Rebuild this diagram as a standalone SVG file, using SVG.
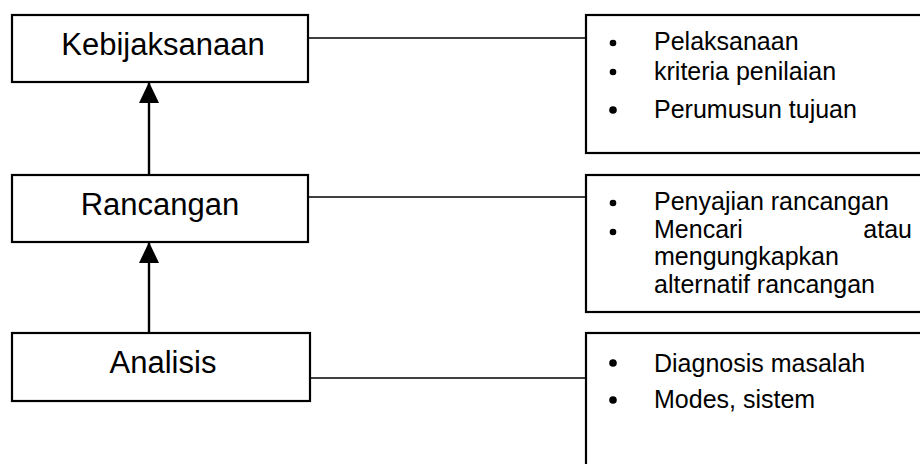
<svg xmlns="http://www.w3.org/2000/svg" width="920" height="464" viewBox="0 0 920 464">
<defs>
<marker id="ah" markerUnits="userSpaceOnUse" markerWidth="21" markerHeight="20" refX="20" refY="10" orient="auto" viewBox="0 0 21 20">
<polygon points="0,0 21,10 0,20" fill="#000"/>
</marker>
</defs>
<style>
.box{fill:#fff;stroke:#000;stroke-width:2.2}
.lbl{font-family:"Liberation Sans",Arial,sans-serif;font-size:31px;fill:#000;text-anchor:middle}
.item{font-family:"Liberation Sans",Arial,sans-serif;font-size:25px;fill:#000}
.dot{fill:#000}
.con{stroke:#000;stroke-width:1.6;fill:none}
.arr{stroke:#000;stroke-width:2.4;fill:none}
</style>
<rect width="920" height="464" fill="#fff"/>
<g id="kebijaksanaan">
<rect class="box" x="12" y="15" width="296" height="67"/>
<text class="lbl" x="163" y="55">Kebijaksanaan</text>
</g>
<g id="rancangan">
<rect class="box" x="12" y="175" width="296" height="67"/>
<text class="lbl" x="160" y="215">Rancangan</text>
</g>
<g id="analisis">
<rect class="box" x="12" y="333" width="298" height="68"/>
<text class="lbl" x="163" y="373">Analisis</text>
</g>
<g id="list-kebijaksanaan">
<rect class="box" x="586" y="15" width="340" height="138"/>
<circle class="dot" cx="613" cy="43" r="3.3"/>
<circle class="dot" cx="613" cy="72" r="3.3"/>
<circle class="dot" cx="613" cy="110" r="3.8"/>
<text class="item" x="654" y="50">Pelaksanaan</text>
<text class="item" x="654" y="80">kriteria penilaian</text>
<text class="item" x="654" y="118">Perumusun tujuan</text>
</g>
<g id="list-rancangan">
<rect class="box" x="586" y="175" width="340" height="137"/>
<circle class="dot" cx="613" cy="203" r="3.3"/>
<circle class="dot" cx="613" cy="232" r="3.3"/>
<text class="item" x="654" y="210">Penyajian rancangan</text>
<text class="item" x="654" y="238">Mencari</text>
<text class="item" x="912" y="238" text-anchor="end">atau</text>
<text class="item" x="654" y="265">mengungkapkan</text>
<text class="item" x="654" y="293">alternatif rancangan</text>
</g>
<g id="list-analisis">
<rect class="box" x="586" y="333" width="340" height="140"/>
<circle class="dot" cx="613" cy="363" r="3.8"/>
<circle class="dot" cx="613" cy="400" r="3.8"/>
<text class="item" x="654" y="372">Diagnosis masalah</text>
<text class="item" x="654" y="408">Modes, sistem</text>
</g>
<g id="connectors">
<line class="con" x1="309" y1="38" x2="585" y2="38"/>
<line class="con" x1="309" y1="197" x2="585" y2="197"/>
<line class="con" x1="311" y1="378" x2="585" y2="378"/>
<line class="arr" x1="149" y1="174" x2="149" y2="83" marker-end="url(#ah)"/>
<line class="arr" x1="149" y1="332" x2="149" y2="243" marker-end="url(#ah)"/>
</g>
</svg>
